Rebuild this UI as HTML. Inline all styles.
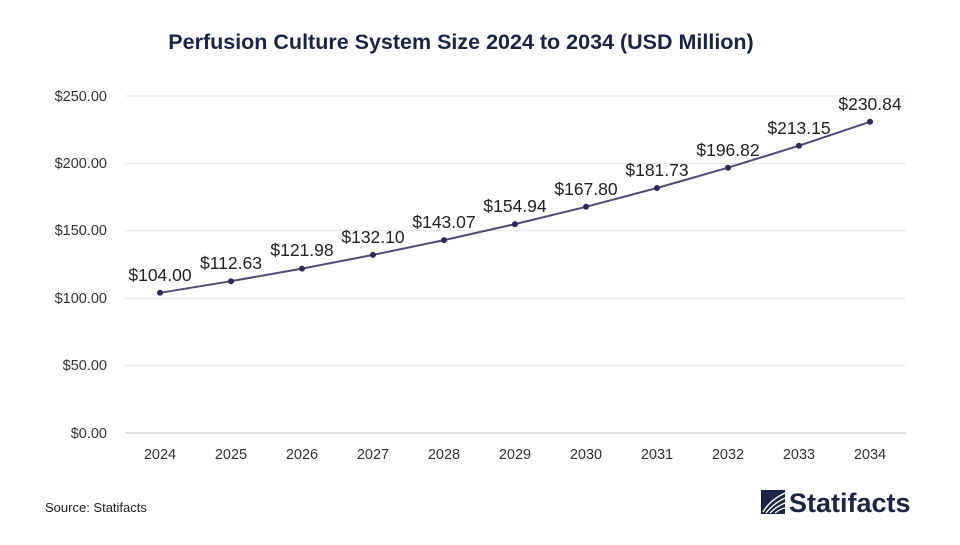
<!DOCTYPE html>
<html><head><meta charset="utf-8"><style>
body{margin:0;width:960px;height:540px;background:#fff;overflow:hidden;font-family:"Liberation Sans",sans-serif}
</style></head><body>
<svg width="960" height="540" xmlns="http://www.w3.org/2000/svg" font-family="Liberation Sans, sans-serif">
<rect width="960" height="540" fill="#fff"/>
<text x="461" y="49" text-anchor="middle" font-size="21.5" font-weight="bold" fill="#1a2447">Perfusion Culture System Size 2024 to 2034 (USD Million)</text>
<g stroke="#e6e6e6" stroke-width="1">
<line x1="125" x2="906" y1="96" y2="96"/><line x1="125" x2="906" y1="163.4" y2="163.4"/>
<line x1="125" x2="906" y1="230.8" y2="230.8"/><line x1="125" x2="906" y1="298.2" y2="298.2"/>
<line x1="125" x2="906" y1="365.6" y2="365.6"/>
</g>
<line x1="125" x2="906" y1="433" y2="433" stroke="#bfbfbf"/>
<g font-size="14.5" fill="#333" text-anchor="end">
<text x="107" y="101">$250.00</text><text x="107" y="168">$200.00</text><text x="107" y="235">$150.00</text>
<text x="107" y="303">$100.00</text><text x="107" y="370">$50.00</text><text x="107" y="438">$0.00</text>
</g>
<g font-size="14.5" fill="#333" text-anchor="middle">
<text x="160" y="459">2024</text><text x="231" y="459">2025</text><text x="302" y="459">2026</text><text x="373" y="459">2027</text><text x="444" y="459">2028</text><text x="515" y="459">2029</text><text x="586" y="459">2030</text><text x="657" y="459">2031</text><text x="728" y="459">2032</text><text x="799" y="459">2033</text><text x="870" y="459">2034</text>
</g>
<polyline fill="none" stroke="#4f4a78" stroke-width="2" points="160,292.8 231,281.2 302,268.6 373,254.9 444,240.1 515,224.1 586,206.8 657,188 728,167.7 799,145.7 870,121.8"/>
<g fill="#2e2a5a">
<circle cx="160" cy="292.8" r="3"/><circle cx="231" cy="281.2" r="3"/><circle cx="302" cy="268.6" r="3"/><circle cx="373" cy="254.9" r="3"/><circle cx="444" cy="240.1" r="3"/><circle cx="515" cy="224.1" r="3"/><circle cx="586" cy="206.8" r="3"/><circle cx="657" cy="188" r="3"/><circle cx="728" cy="167.7" r="3"/><circle cx="799" cy="145.7" r="3"/><circle cx="870" cy="121.8" r="3"/>
</g>
<g font-size="17.5" fill="#222" text-anchor="middle">
<text x="160" y="281">$104.00</text><text x="231" y="269">$112.63</text><text x="302" y="256">$121.98</text><text x="373" y="243">$132.10</text><text x="444" y="228">$143.07</text><text x="515" y="212">$154.94</text><text x="586" y="195">$167.80</text><text x="657" y="176">$181.73</text><text x="728" y="156">$196.82</text><text x="799" y="134">$213.15</text><text x="870" y="110">$230.84</text>
</g>
<text x="45" y="512" font-size="13" fill="#222">Source: Statifacts</text>
<rect x="761" y="490" width="24" height="24" fill="#1a2447"/>
<g stroke="#fff" stroke-width="1.3" fill="none">
<path d="M763,512 Q770,500 785,493"/><path d="M766,513 Q774,503 785,498"/><path d="M770,513 Q777,506 785,503"/><path d="M775,513 Q780,509 785,508"/>
</g>
<text x="789" y="512" font-size="27" font-weight="bold" fill="#1a2447">Statifacts</text>
</svg>
</body></html>
